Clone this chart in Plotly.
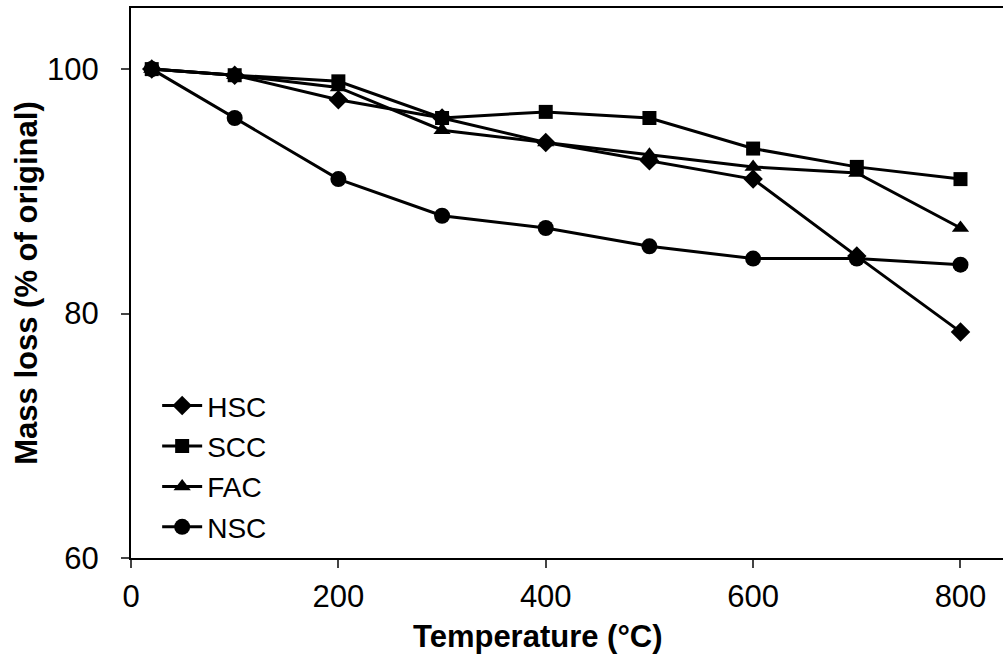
import plotly.graph_objects as go

temperature = [20, 100, 200, 300, 400, 500, 600, 700, 800]
hsc = [100, 99.5, 97.5, 96.0, 94.0, 92.5, 91.0, 84.7, 78.5]
scc = [100, 99.5, 99.0, 96.0, 96.5, 96.0, 93.5, 92.0, 91.0]
fac = [100, 99.5, 98.5, 95.0, 94.0, 93.0, 92.0, 91.5, 87.0]
nsc = [100, 96.0, 91.0, 88.0, 87.0, 85.5, 84.5, 84.5, 84.0]

x_ticks = [0, 200, 400, 600, 800]
y_ticks = [60, 80, 100]

series = [
    ("HSC", hsc, "diamond", 15),
    ("SCC", scc, "square", 14),
    ("FAC", fac, "triangle-up", 15),
    ("NSC", nsc, "circle", 16),
]

fig = go.Figure()
for name, vals, sym, size in series:
    fig.add_trace(go.Scatter(
        x=temperature, y=vals, name=name, mode="lines+markers",
        legendgroup=name,
        line=dict(color="black", width=3),
        marker=dict(symbol=sym, size=size, color="black"),
    ))

font = "Liberation Sans, Arial, sans-serif"
fig.update_layout(
    width=1003, height=657,
    margin=dict(l=131, r=0, t=8, b=99),
    paper_bgcolor="white", plot_bgcolor="white",
    font=dict(family=font, size=28, color="black"),
    showlegend=True,
    legend=dict(x=0.03, y=0.322, xanchor="left", yanchor="top",
                font=dict(size=28), traceorder="grouped", tracegroupgap=1,
                itemwidth=40, bgcolor="rgba(0,0,0,0)"),
    xaxis=dict(
        range=[0, 841], tickvals=x_ticks, ticks="outside", ticklen=8, tickwidth=1.5,
        tickfont=dict(size=31), ticklabelstandoff=2,
        showline=True, linecolor="black", linewidth=2, mirror=True,
        showgrid=False, zeroline=False,
    ),
    yaxis=dict(
        range=[60, 105], tickvals=y_ticks, ticks="outside", ticklen=8, tickwidth=1.5,
        tickfont=dict(size=31), ticklabelstandoff=16,
        showline=True, linecolor="black", linewidth=2,
        showgrid=False, zeroline=False,
        title=dict(text="<b>Mass loss (% of original)</b>", font=dict(size=31), standoff=0),
    ),
    annotations=[dict(
        text="<b>Temperature (°C)</b>", xref="paper", yref="paper",
        x=0.4667, y=-0.142, xanchor="center", yanchor="middle",
        showarrow=False, font=dict(size=31),
    )],
)

fig.write_html("out.html")
